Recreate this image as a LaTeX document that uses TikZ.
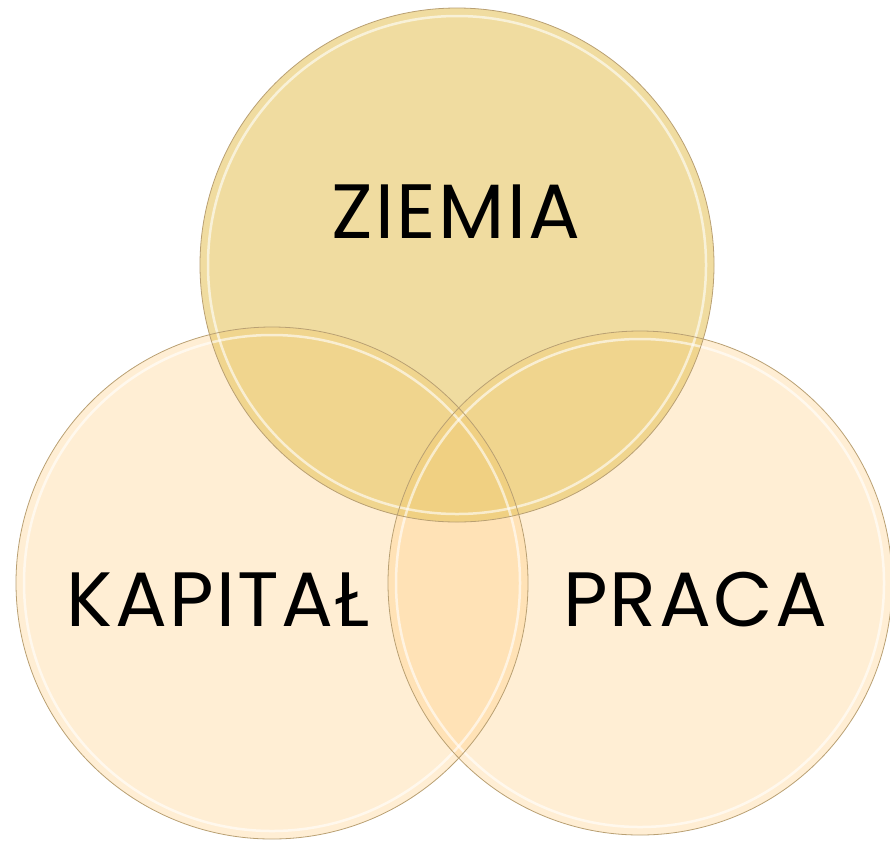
\documentclass[tikz,border=0pt]{standalone}
\usepackage{fontspec}
\setmainfont{Poppins}[LetterSpace=3]
\definecolor{vennpeach}{RGB}{255,198,112}
\definecolor{venngold}{RGB}{230,197,97}
\definecolor{vennrim}{RGB}{185,160,115}

\begin{document}
\begin{tikzpicture}[x=1pt,y=-1pt,
  soft/.style={fill=vennpeach, fill opacity=0.3},
  strong/.style={fill=venngold, fill opacity=0.6},
  rim/.style={draw=vennrim, line width=0.8pt},
  gloss/.style={draw=white, line width=2.5pt, opacity=0.6},
  word/.style={font=\fontsize{77}{80}\selectfont, text=black}]
\useasboundingbox (0,0) rectangle (890,841);
% the three fields
\fill[soft] (272,583) circle [radius=256];
\fill[soft] (640,583) circle [radius=252];
\fill[strong] (457,265) circle [radius=257];
%\draw (0,0) rectangle (890,841);
\draw[gloss] (272,583) circle [radius=248];
\draw[gloss] (640,583) circle [radius=244];
\draw[gloss] (457,265) circle [radius=249];
\draw[rim] (272,583) circle [radius=256];
\draw[rim] (640,583) circle [radius=252];
\draw[rim] (457,265) circle [radius=257];
% labels
\node[word] (ziemia) at (456,212) {ZIEMIA};
\node[word] (kapital) at (218,600) {KAPITAŁ};
\node[word] (praca) at (695,600) {PRACA};
\end{tikzpicture}
\end{document}
